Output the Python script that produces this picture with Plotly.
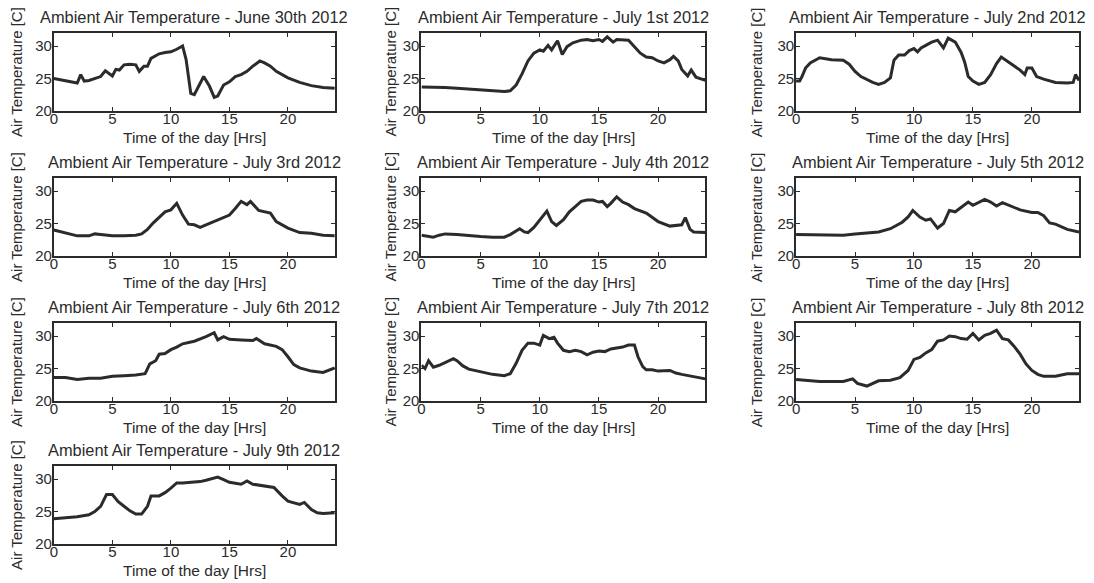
import plotly.graph_objects as go

W, H = 1094, 583

# ---------------- data ----------------
day_titles = [
    "Ambient Air Temperature - June 30th 2012",
    "Ambient Air Temperature - July 1st 2012",
    "Ambient Air Temperature - July 2nd 2012",
    "Ambient Air Temperature - July 3rd 2012",
    "Ambient Air Temperature - July 4th 2012",
    "Ambient Air Temperature - July 5th 2012",
    "Ambient Air Temperature - July 6th 2012",
    "Ambient Air Temperature - July 7th 2012",
    "Ambient Air Temperature - July 8th 2012",
    "Ambient Air Temperature - July 9th 2012",
]

hours_jun30 = [0, 1, 2, 2.3, 2.6, 3, 3.5, 4, 4.4, 4.8, 5, 5.3, 5.6, 6, 6.5, 7, 7.3, 7.7, 8, 8.3, 9, 9.5,
               10, 10.5, 11, 11.3, 11.7, 12, 12.4, 12.8, 13.3, 13.7, 14, 14.5, 15, 15.5, 16, 16.5, 17,
               17.6, 18, 18.5, 19, 20, 21, 22, 23, 24]
temp_jun30 = [25.0, 24.6, 24.3, 25.6, 24.6, 24.7, 25.0, 25.3, 26.2, 25.7, 25.4, 26.4, 26.3, 27.1, 27.2,
              27.1, 26.1, 26.9, 26.9, 28.1, 28.8, 29.0, 29.1, 29.5, 30.0, 27.9, 22.7, 22.5, 24.0, 25.3,
              23.8, 22.1, 22.3, 24.0, 24.5, 25.3, 25.6, 26.1, 26.9, 27.7, 27.4, 26.9, 26.1, 25.1, 24.4,
              23.9, 23.6, 23.5]

hours_jul01 = [0, 1, 2, 3, 4, 5, 6, 7, 7.5, 8, 8.5, 9, 9.5, 10, 10.3, 10.7, 11, 11.5, 11.9, 12.3, 12.8,
               13.5, 14, 14.5, 15, 15.3, 15.7, 16.2, 16.5, 17, 17.5, 18, 18.5, 19, 19.5, 20, 20.5, 21,
               21.3, 21.7, 22, 22.5, 22.8, 23.2, 23.6, 24]
temp_jul01 = [23.7, 23.7, 23.6, 23.5, 23.4, 23.2, 23.1, 23.0, 23.1, 24.0, 25.7, 27.7, 28.9, 29.4, 29.2,
              30.1, 29.4, 30.8, 28.7, 29.9, 30.5, 30.9, 31.0, 30.8, 31.0, 30.7, 31.4, 30.6, 31.0, 30.9,
              30.9, 29.9, 28.9, 28.3, 28.2, 27.7, 27.4, 27.9, 28.4, 27.7, 26.4, 25.4, 26.3, 25.2, 25.0,
              24.7]

hours_jul02 = [0, 0.3, 0.5, 0.8, 1.2, 2, 3, 4, 4.5, 5, 5.5, 6, 6.5, 7, 7.5, 8, 8.3, 8.7, 9.2, 9.6, 10,
               10.3, 10.6, 11, 11.5, 12, 12.5, 12.9, 13.5, 14, 14.3, 14.6, 15, 15.5, 16, 16.5, 17, 17.4,
               18, 18.5, 19, 19.4, 19.6, 20, 20.4, 21, 22, 23, 23.5, 23.7, 24]
temp_jul02 = [24.6, 24.6, 25.3, 26.6, 27.4, 28.2, 27.9, 27.8, 27.2, 26.1, 25.3, 24.8, 24.4, 24.1, 24.4,
              25.1, 27.8, 28.6, 28.6, 29.3, 29.6, 29.1, 29.7, 30.1, 30.6, 30.9, 29.7, 31.2, 30.6, 29.0,
              27.5, 25.3, 24.6, 24.1, 24.4, 25.6, 27.3, 28.3, 27.6, 26.9, 26.3, 25.6, 26.6, 26.6, 25.3,
              24.9, 24.4, 24.3, 24.4, 25.6, 24.7]

hours_jul03 = [0, 1, 2, 3, 3.5, 4, 5, 6, 7, 7.5, 8, 8.5, 9, 9.5, 10, 10.5, 11, 11.5, 12, 12.5, 13, 14,
               15, 15.5, 16, 16.5, 16.8, 17.5, 18.5, 19, 20, 21, 22, 23, 24]
temp_jul03 = [24.0, 23.5, 23.1, 23.1, 23.4, 23.3, 23.1, 23.1, 23.2, 23.4, 24.1, 25.1, 25.9, 26.8, 27.1,
              28.1, 26.3, 24.9, 24.8, 24.4, 24.8, 25.6, 26.3, 27.3, 28.4, 27.9, 28.4, 27.0, 26.6, 25.3,
              24.3, 23.6, 23.5, 23.2, 23.1]

hours_jul04 = [0, 1, 1.5, 2, 3, 4, 5, 6, 7, 7.5, 8, 8.3, 8.7, 9, 9.5, 10, 10.6, 11, 11.4, 12, 12.5, 13,
               13.5, 14, 14.5, 15, 15.3, 15.7, 16, 16.5, 17, 17.5, 18, 19, 20, 21, 22, 22.3, 22.7, 23, 24]
temp_jul04 = [23.2, 22.9, 23.2, 23.4, 23.3, 23.1, 23.0, 22.9, 22.9, 23.3, 23.8, 24.2, 23.7, 23.6, 24.4,
              25.5, 26.9, 25.3, 24.7, 25.6, 26.8, 27.6, 28.4, 28.6, 28.6, 28.3, 28.4, 27.6, 28.1, 29.1,
              28.3, 27.9, 27.3, 26.6, 25.3, 24.6, 24.8, 25.9, 24.1, 23.7, 23.6]

hours_jul05 = [0, 2, 4, 5, 6, 7, 8, 9, 9.5, 9.9, 10.5, 11, 11.4, 12, 12.5, 13, 13.5, 14, 14.6, 15, 15.5,
               16, 16.5, 17, 17.5, 18, 19, 20, 20.5, 21, 21.5, 22, 23, 24]
temp_jul05 = [23.3, 23.2, 23.2, 23.4, 23.6, 23.7, 24.2, 25.2, 26.0, 27.0, 26.0, 25.5, 25.7, 24.3, 25.0,
              27.0, 26.8, 27.5, 28.3, 27.8, 28.2, 28.7, 28.3, 27.7, 28.2, 27.8, 27.1, 26.7, 26.7, 26.2,
              25.1, 24.9, 24.1, 23.7]

hours_jul06 = [0, 1, 2, 3, 4, 5, 6, 7, 7.8, 8.2, 8.7, 9, 9.5, 10, 10.5, 11, 12, 12.5, 13, 13.7, 14, 14.5,
               15, 16, 17, 17.3, 18, 19, 19.5, 20, 20.5, 21, 22, 23, 23.5, 24]
temp_jul06 = [23.6, 23.6, 23.3, 23.5, 23.5, 23.8, 23.9, 24.0, 24.2, 25.7, 26.2, 27.2, 27.3, 27.9, 28.3,
              28.8, 29.2, 29.5, 29.9, 30.5, 29.4, 29.9, 29.5, 29.4, 29.3, 29.6, 28.8, 28.4, 27.9, 26.8,
              25.6, 25.1, 24.6, 24.4, 24.8, 25.1]

hours_jul07 = [0, 0.3, 0.6, 1, 1.5, 2, 2.7, 3, 3.5, 4, 5, 6, 7, 7.5, 8, 8.5, 9, 9.5, 10, 10.3, 10.8,
               11.2, 11.5, 12, 12.5, 13, 13.5, 14, 14.5, 15, 15.5, 16, 17, 17.5, 18, 18.3, 18.7, 19,
               19.5, 20, 21, 21.5, 22, 23, 24]
temp_jul07 = [25.5, 25.0, 26.2, 25.2, 25.5, 25.9, 26.5, 26.2, 25.4, 24.9, 24.5, 24.1, 23.9, 24.2, 25.8,
              27.8, 28.9, 28.9, 28.6, 30.1, 29.6, 29.8, 28.9, 27.8, 27.6, 27.8, 27.6, 27.1, 27.5, 27.7,
              27.6, 28.0, 28.3, 28.6, 28.6, 26.8, 25.3, 24.8, 24.8, 24.6, 24.7, 24.3, 24.1, 23.7, 23.4]

hours_jul08 = [0, 1, 2, 3, 4, 4.8, 5.2, 6, 6.5, 7, 8, 8.8, 9.5, 10, 10.5, 11, 11.5, 12, 12.5, 13, 13.5,
               14, 14.5, 15, 15.5, 16, 16.5, 17, 17.5, 18, 18.5, 19, 19.5, 20, 20.5, 21, 22, 22.5, 23, 24]
temp_jul08 = [23.3, 23.1, 23.0, 23.0, 23.0, 23.4, 22.7, 22.3, 22.7, 23.1, 23.2, 23.6, 24.7, 26.4, 26.7,
              27.4, 27.9, 29.2, 29.4, 30.0, 29.9, 29.6, 29.5, 30.4, 29.4, 30.1, 30.4, 30.9, 29.6, 29.4,
              28.4, 27.2, 25.7, 24.7, 24.1, 23.8, 23.8, 24.0, 24.2, 24.2]

hours_jul09 = [0, 1, 2, 3, 3.5, 4, 4.5, 5, 5.5, 6, 6.5, 7, 7.5, 8, 8.3, 9, 9.5, 10, 10.5, 11, 12, 12.5,
               13, 14, 14.5, 15, 16, 16.5, 17, 18, 18.8, 19.5, 20, 21, 21.4, 22, 22.5, 23, 24]
temp_jul09 = [23.9, 24.0, 24.2, 24.5, 25.0, 25.8, 27.6, 27.6, 26.5, 25.8, 25.1, 24.6, 24.6, 25.8, 27.4,
              27.4, 27.9, 28.6, 29.4, 29.4, 29.5, 29.6, 29.8, 30.3, 29.9, 29.5, 29.2, 29.7, 29.2, 28.9,
              28.7, 27.4, 26.6, 26.1, 26.4, 25.3, 24.8, 24.7, 24.8]

x_ticks = [0, 5, 10, 15, 20]
y_ticks = [20, 25, 30]
x_title = "Time of the day [Hrs]"
y_title = "Air Temperature [C]"

series = [
    (hours_jun30, temp_jun30), (hours_jul01, temp_jul01), (hours_jul02, temp_jul02),
    (hours_jul03, temp_jul03), (hours_jul04, temp_jul04), (hours_jul05, temp_jul05),
    (hours_jul06, temp_jul06), (hours_jul07, temp_jul07), (hours_jul08, temp_jul08),
    (hours_jul09, temp_jul09),
]

# ---------------- layout geometry (pixels) ----------------
H_EFF = 575.0          # effective vertical extent seen in the rendered page
col_px = [(50, 332), (419, 704), (795, 1079)]
row_px = [(33, 111), (178, 256), (323, 401), (466, 544)]
ylab_x = [12, 387, 755]


def fx(px):
    return px / W


def fy(py):
    return 1 - py / H_EFF


INK = "#2b2b2b"
FONT = "Liberation Sans, Arial, sans-serif"

fig = go.Figure()
annotations = []
layout_axes = {}

for i, (hrs, tmp) in enumerate(series):
    r, c = divmod(i, 3)
    x0, x1 = col_px[c]
    y0, y1 = row_px[r]
    n = "" if i == 0 else str(i + 1)
    fig.add_trace(go.Scatter(
        x=hrs, y=tmp, mode="lines",
        line=dict(color=INK, width=3),
        xaxis="x" + n, yaxis="y" + n, showlegend=False, hoverinfo="x+y",
    ))
    common = dict(
        showline=True, linecolor=INK, linewidth=2, mirror="allticks",
        ticks="inside", ticklen=4, tickwidth=1, tickcolor=INK,
        showgrid=False, zeroline=False, fixedrange=True,
        tickfont=dict(family=FONT, size=15, color=INK),
    )
    layout_axes["xaxis" + n] = dict(
        domain=[fx(x0), fx(x1)], range=[0, 24], tickvals=x_ticks,
        anchor="y" + n, ticklabelstandoff=-7, **common)
    layout_axes["yaxis" + n] = dict(
        domain=[fy(y1), fy(y0)], range=[20, 32], tickvals=y_ticks,
        anchor="x" + n, ticklabelstandoff=-3, **common)
    cx = (x0 + x1) / 2
    cy = (y0 + y1) / 2
    annotations.append(dict(
        text=day_titles[i], x=fx(cx), y=fy(y0 - 16), xref="paper", yref="paper",
        xanchor="center", yanchor="middle", showarrow=False,
        font=dict(family=FONT, size=16.4, color=INK)))
    annotations.append(dict(
        text=x_title, x=fx(cx), y=fy(y1 + 26), xref="paper", yref="paper",
        xanchor="center", yanchor="middle", showarrow=False,
        font=dict(family=FONT, size=15.5, color=INK)))
    annotations.append(dict(
        text=y_title, x=fx(ylab_x[c]), y=fy(cy), xref="paper", yref="paper",
        xanchor="center", yanchor="middle", showarrow=False, textangle=-90,
        font=dict(family=FONT, size=15, color=INK)))

fig.update_layout(
    width=W, height=H,
    margin=dict(l=0, r=0, t=0, b=0),
    paper_bgcolor="white", plot_bgcolor="white",
    annotations=annotations,
    **layout_axes,
)

fig.write_html(
    "out.html",
    config={"displayModeBar": False},
    post_script=(
        "var d=document.getElementById('{plot_id}');"
        "d.style.position='fixed';d.style.left='0px';d.style.top='0px';"
        "document.documentElement.style.margin='0';document.body.style.margin='0';"
        "document.documentElement.style.overflow='hidden';document.body.style.overflow='hidden';"
    ),
)
